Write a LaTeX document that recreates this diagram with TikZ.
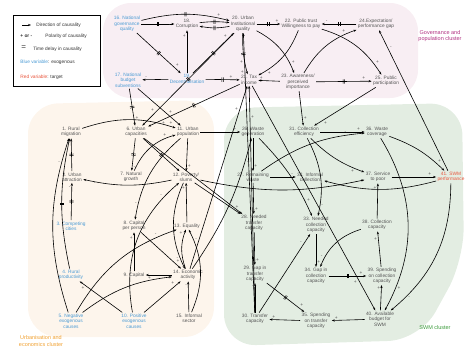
\documentclass[tikz,border=0pt]{standalone}
\usepackage{fontspec}
\setmainfont{Liberation Sans}
\usetikzlibrary{arrows.meta,decorations.markings}
\definecolor{txt}{HTML}{555555}
\definecolor{exo}{HTML}{4A9AD4}
\definecolor{tgt}{HTML}{E8533A}
\definecolor{pinkbg}{HTML}{F8EEF3}
\definecolor{peachbg}{HTML}{FDF5EC}
\definecolor{greenbg}{HTML}{E3EDE2}
\definecolor{govc}{HTML}{B03080}
\definecolor{urbc}{HTML}{F0A030}
\definecolor{swmc}{HTML}{3A9A3A}
\newcommand{\vfont}{\fontsize{4.8}{5.4}\selectfont}
\tikzset{
 v/.style={align=center,font=\vfont,text=txt,inner sep=1.2pt},
 ex/.style={v,text=exo},
 tg/.style={v,text=tgt},
 ar/.style={-{Stealth[length=3pt,width=2.2pt]},line width=0.6pt},
 dly/.style={postaction={decorate,decoration={markings,mark=at position #1 with {\draw[-,line width=0.5pt] (-0.7pt,-2.2pt)--(-0.7pt,2.2pt) (0.7pt,-2.2pt)--(0.7pt,2.2pt);}}}},
 dly/.default=0.5,
 pl/.style={pos=0.86,auto,inner sep=1pt,font=\vfont,text=txt},
}
\begin{document}
\begin{tikzpicture}[x=1pt,y=-1pt]
\useasboundingbox (0,0) rectangle (467,349);
% backgrounds
\fill[pinkbg,rounded corners=28pt] (103,3) -- (418,3) -- (418,98) -- (103,98) -- cycle;
\fill[peachbg,rounded corners=30pt] (28,104) -- (214,100) -- (214,337) -- (28,337) -- cycle;
\fill[greenbg,rounded corners=32pt] (224,108) -- (462,103) -- (464,260) -- (420,340) -- (224,346) -- cycle;
% legend
\node[draw,line width=0.6pt,minimum width=87pt,minimum height=71pt,inner sep=0pt] (leg) at (56.5,50.5) {};
\coordinate (la) at (22,25); \coordinate (lb) at (31,25);
\draw[ar] (la) -- (lb);
\node[v,anchor=west,text=black!80] (l1) at (35,25) {Direction of causality};
\node[v,anchor=west,text=black!80] (l2) at (19,36) {\textbf{+ or -}};
\node[v,anchor=west,text=black!80] (l3) at (44,36) {Polarity of causality};
\node[v,anchor=west,text=black!80,font=\fontsize{8}{8}\selectfont] (l4) at (20,48) {=};
\node[v,anchor=west,text=black!80] (l5) at (32,49) {Time delay in causality};
\node[v,anchor=west] (l6) at (19,62) {\textcolor{exo}{Blue variable}\textcolor{black!80}{: exogenous}};
\node[v,anchor=west] (l7) at (19,77) {\textcolor{tgt}{Red variable}\textcolor{black!80}{: target}};
% cluster labels
\node[v,text=govc,font=\fontsize{5.5}{6.5}\selectfont] (cg) at (440,36) {Governance and\\population cluster};
\node[v,text=urbc,font=\fontsize{5.5}{6.5}\selectfont] (cu) at (41,341) {Urbanisation and\\economics cluster};
\node[v,text=swmc,font=\fontsize{5.5}{6.5}\selectfont] (cs) at (435,328) {SWM cluster};
% nodes governance
\node[ex] (n16) at (127,24) {16. National\\governance\\quality};
\node[v] (n18) at (187,24) {18.\\Corruption};
\node[v] (n20) at (243,24) {20. Urban\\Institutional\\quality};
\node[v] (n22) at (301,24) {22.  Public trust\\Willingness to pay};
\node[v] (n24) at (376,24) {24.Expectation/\\performance gap};
\node[ex] (n17) at (128,80) {17. National\\budget\\subventions};
\node[ex] (n19) at (187,79) {19.\\Decentralisation};
\node[v] (n21) at (249,80) {21. Tax\\income};
\node[v] (n23) at (298,82) {23. Awareness/\\perceived\\importance};
\node[v] (n25) at (386,81) {25. Public\\participation};
% urbanisation
\node[v] (n1) at (71,132) {1. Rural\\migration};
\node[v] (n6) at (136,132) {6. Urban\\capacities};
\node[v] (n11) at (188,132) {11. Urban\\population};
\node[v] (n2) at (72,177) {2. Urban\\attraction};
\node[v] (n7) at (131,177) {7. Natural\\growth};
\node[v] (n12) at (186,177) {12. Poverty/\\slums};
\node[ex] (n3) at (71,226) {3. Competing\\cities};
\node[v] (n8) at (134,226) {8. Capital\\per person};
\node[v] (n13) at (187,226) {13. Equality};
\node[ex] (n4) at (71,275) {4. Rural\\productivity};
\node[v] (n9) at (134,275) {9. Capital};
\node[v] (n14) at (188,275) {14. Economic\\activity};
\node[ex] (n5) at (71,321) {5. Negative\\exogenous\\causes};
\node[ex] (n10) at (134,321) {10. Positive\\exogenous\\causes};
\node[v] (n15) at (189,318) {15. Informal\\sector};
% swm
\node[v] (n26) at (253,132) {26. Waste\\generation};
\node[v] (n31) at (304,132) {31. Collection\\efficiency};
\node[v] (n36) at (377,132) {36. Waste\\coverage};
\node[v] (n27) at (253,177) {27. Remaining\\waste};
\node[v] (n32) at (310,177) {32. Informal\\collection};
\node[v] (n37) at (378,177) {37. Service\\to poor};
\node[tg] (n41) at (451,177) {41. SWM\\performance};
\node[v] (n28) at (254,223) {28. Needed\\transfer\\capacity};
\node[v] (n33) at (316,225) {33. Needed\\collection\\capacity};
\node[v] (n38) at (377,225) {38. Collection\\capacity};
\node[v] (n29) at (255,274) {29. Gap in\\transfer\\capacity};
\node[v] (n34) at (316,276) {34. Gap in\\collection\\capacity};
\node[v] (n39) at (382,276) {39. Spending\\on collection\\capacity};
\node[v] (n30) at (255,319) {30. Transfer\\capacity};
\node[v] (n35) at (316,321) {35. Spending\\on transfer\\capacity};
\node[v] (n40) at (380,319) {40. Available\\budget for\\SWM};
% governance edges
\draw[ar,dly] (n16) to[bend left=14] node[pl]{+} (n20);
\draw[ar,dly] (n16) -- node[pl,swap]{-} (n18);
\draw[ar,dly] (n18) to[bend left=6] node[pl]{-} (n20);
\draw[ar,dly] (n20) to[bend left=10] node[pl]{-} (n18);
\draw[ar,dly] (n16) -- node[pl]{+} (n19);
\draw[ar] (n19) -- node[pl]{+} (n18);
\draw[ar] (n19) -- node[pl,swap]{-} (n17);
\draw[ar,dly] (n19) -- node[pl]{+} (n20);
\draw[ar,dly] (n19) -- node[pl,pos=0.75]{+} (n21);
\draw[ar,dly] (n20) -- node[pl]{+} (n22);
\draw[ar,dly] (n24) -- node[pl,swap]{-} (n22);
\draw[ar] (n22) to[bend left=20] node[pl]{+} (n25);
\draw[ar] (n23) to[bend left=20] node[pl]{+} (n24);
\draw[ar,dly] (n23) -- node[pl]{+} (n25);
\draw[ar] (n22) to[bend left=20] node[pl]{+} (n21);
\draw[ar,dly] (n20) to[bend right=8] node[pl,swap,pos=0.65]{+} (n21);
\draw[ar] (n20) to[bend left=20] node[pl]{+} (n23);
\draw[ar] (n41) -- node[pl,swap]{-} (n24);
\draw[ar,dly] (n17) -- node[pl]{+} (n6);
\draw[ar,dly] (n20) -- node[pl,swap]{+} (n6);
\draw[ar,dly] (n21) -- node[pl]{+} (n6);
\draw[ar] (n17) -- node[pl,pos=0.7]{+} (n11);
\draw[ar] (n23) -- node[pl,swap]{+} (n21);
% urbanisation edges
\draw[ar,dly] (n2) -- node[pl]{+} (n1);
\draw[ar,dly] (n3) -- node[pl]{-} (n2);
\draw[ar] (n1) to[bend left=18] node[pl,pos=0.93]{+} (n11);
\draw[ar,dly] (n6) -- node[pl]{-} (n7);
\draw[ar] (n7) to[bend left=25] node[pl]{+} (n11);
\draw[ar,dly] (n6) -- node[pl]{-} (n12);
\draw[ar] (n11) -- node[pl]{+} (n26);
\draw[ar] (n11) -- node[pl]{+} (n12);
\draw[ar] (n12) to[bend left=12] node[pl]{-} (n2);
\draw[ar] (n5) to[bend left=18] node[pl]{-} (n1);
\draw[ar,dly] (n4) to[bend left=12] node[pl]{-} (n1);
\draw[ar] (n10) -- node[pl]{+} (n4);
\draw[ar] (n5) to[bend left=15] node[pl]{-} (n14);
\draw[ar] (n10) -- node[pl]{+} (n14);
\draw[ar] (n9) -- node[pl]{+} (n8);
\draw[ar] (n14) -- node[pl]{+} (n9);
\draw[ar] (n8) -- node[pl]{+} (n14);
\draw[ar] (n14) to[bend left=20] node[pl]{+} (n13);
\draw[ar] (n15) -- node[pl]{-} (n14);
\draw[ar] (n13) -- node[pl]{+} (n12);
\draw[ar] (n15) to[bend right=25] node[pl,swap]{-} (n13);
\draw[ar] (n14) -- node[pl]{+} (n21);
\draw[ar] (n12) -- node[pl]{+} (n28);
\draw[ar] (n11) to[bend right=20] node[pl,swap]{-} (n8);
\draw[ar] (n10) to[bend left=30] node[pl]{-} (n12);
\draw[ar] (n12) to[bend right=25] node[pl,swap]{-} (n14);
\draw[ar] (n6) -- node[pl]{+} (n28);
\draw[ar] (n14) to[bend right=10] node[pl,swap]{+} (n26);
\draw[ar] (n5) to[bend left=20] node[pl]{-} (n13);
% swm edges
\draw[ar] (n26) -- node[pl]{+} (n27);
\draw[ar] (n27) -- node[pl]{+} (n28);
\draw[ar] (n28) -- node[pl]{+} (n29);
\draw[ar] (n30) -- node[pl]{-} (n29);
\draw[ar] (n35) -- node[pl,swap]{+} (n30);
\draw[ar] (n40) -- node[pl,swap]{+} (n35);
\draw[ar] (n40) -- node[pl]{+} (n39);
\draw[ar] (n39) -- node[pl]{+} (n38);
\draw[ar] (n38) -- node[pl]{+} (n37);
\draw[ar] (n37) -- node[pl]{+} (n41);
\draw[ar] (n36) to[bend left=12] node[pl]{+} (n41);
\draw[ar] (n31) -- node[pl]{+} (n36);
\draw[ar] (n31) to[bend right=12] node[pl,swap]{+} (n37);
\draw[ar] (n27) -- node[pl]{-} (n32);
\draw[ar] (n27) to[bend left=15] node[pl]{-} (n36);
\draw[ar] (n33) -- node[pl]{+} (n34);
\draw[ar] (n38) to[bend right=25] node[pl,swap]{-} (n34);
\draw[ar,dly] (n34) -- node[pl]{+} (n39);
\draw[ar,dly] (n29) -- node[pl]{+} (n35);
\draw[ar] (n41) to[bend left=25] node[pl]{-} (n40);
\draw[ar] (n21) -- node[pl,swap]{+} (n40);
\draw[ar] (n41) to[bend left=15] node[pl]{-} (n32);
\draw[ar] (n30) -- node[pl]{-} (n33);
\draw[ar] (n25) -- node[pl]{+} (n31);
\draw[ar] (n23) -- node[pl]{+} (n31);
\draw[ar] (n31) to[bend left=20] node[pl]{-} (n33);
\draw[ar] (n12) to[bend right=12] node[pl,swap]{-} (n37);
\draw[ar] (n30) -- node[pl]{+} (n20);
\draw[ar] (n30) -- node[pl,swap]{+} (n21);
\draw[ar] (n26) to[bend left=10] node[pl]{+} (n33);
\draw[ar] (n36) to[bend left=30] node[pl]{+} (n40);
\end{tikzpicture}
\end{document}
